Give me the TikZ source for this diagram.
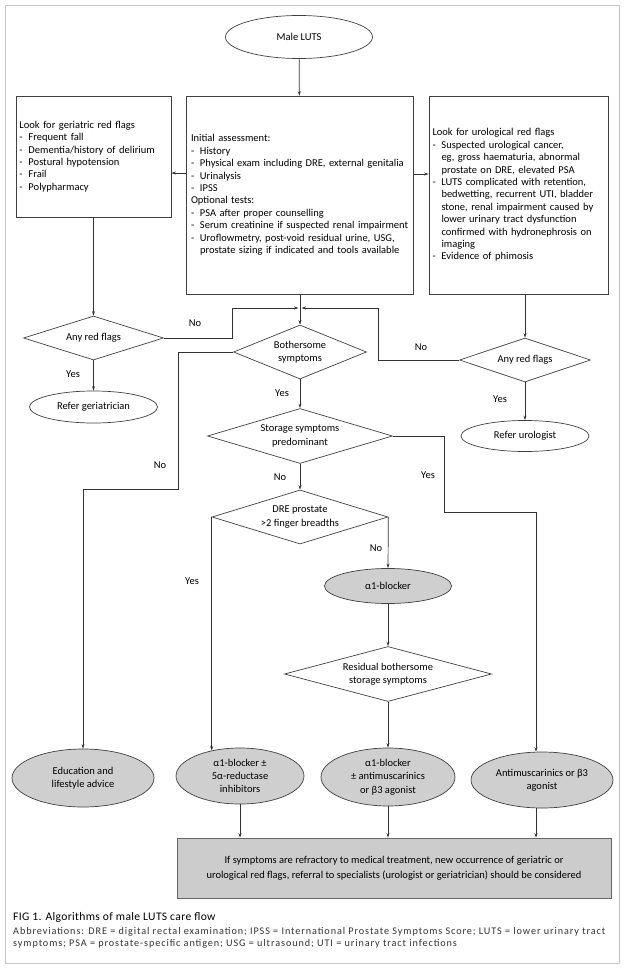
\documentclass[tikz,border=0pt]{standalone}
\usepackage{fontspec}
\setmainfont{Carlito}
\newfontfamily\abbrfamily[LetterSpace=9]{Carlito}
\newfontfamily\capfamily[LetterSpace=3]{Carlito}
\usetikzlibrary{shapes.geometric,arrows.meta}

\newcommand{\bodyfont}{\fontsize{10.5}{12.4}\selectfont}
\newcommand{\choicefont}{\fontsize{10.5}{13.3}\selectfont}
\newcommand{\dashitem}[1]{\makebox[9pt][l]{-}#1}
\newcommand{\contline}[1]{\hspace*{9pt}#1}

\tikzset{
  flowline/.style={draw=black!80, line width=0.7pt},
  infobox/.style={draw=black!75, line width=0.7pt, rectangle, inner xsep=4pt, inner ysep=0pt, align=left, font=\bodyfont},
  choice/.style={draw=black!75, line width=0.7pt, diamond, inner sep=0pt, align=center, font=\choicefont},
  startend/.style={draw=black!75, line width=0.7pt, ellipse, inner sep=0pt, align=center, font=\bodyfont},
  therapy/.style={startend, fill=gray!38, font=\choicefont},
  answer/.style={font=\bodyfont, inner sep=0pt},
}

\begin{document}
\begin{tikzpicture}[x=1pt, y=-1pt, >={Stealth[length=4.5pt,width=3pt]}]
\useasboundingbox (0,0) rectangle (626,974);
\draw[gray!45, line width=0.8pt] (5,5) rectangle (619,963);

% start and first assessment
\node[startend, minimum width=147pt, minimum height=43pt] (luts) at (299,37) {Male LUTS};
\node[infobox, minimum width=155pt, minimum height=121pt, text width=148pt, inner xsep=3.5pt] (geri) at (93.5,156.5) {Look for geriatric red flags\\
\dashitem{Frequent fall}\\
\dashitem{Dementia/history of delirium}\\
\dashitem{Postural hypotension}\\
\dashitem{Frail}\\
\dashitem{Polypharmacy}};
\node[infobox, minimum width=227pt, minimum height=198pt, text width=218pt, inner xsep=4.5pt] (assess) at (300,195) {Initial assessment:\\
\dashitem{History}\\
\dashitem{Physical exam including DRE, external genitalia}\\
\dashitem{Urinalysis}\\
\dashitem{IPSS}\\
Optional tests:\\
\dashitem{PSA after proper counselling}\\
\dashitem{Serum creatinine if suspected renal impairment}\\
\dashitem{Uroflowmetry, post-void residual urine, USG,}\\
\contline{prostate sizing if indicated and tools available}};
\node[infobox, minimum width=179pt, minimum height=198pt, text width=172pt, inner xsep=3.5pt] (uro) at (518.5,195) {Look for urological red flags\\
\dashitem{Suspected urological cancer,}\\
\contline{eg, gross haematuria, abnormal}\\
\contline{prostate on DRE, elevated PSA}\\
\dashitem{LUTS complicated with retention,}\\
\contline{bedwetting, recurrent UTI, bladder}\\
\contline{stone, renal impairment caused by}\\
\contline{lower urinary tract dysfunction}\\
\contline{confirmed with hydronephrosis on}\\
\contline{imaging}\\
\dashitem{Evidence of phimosis}};

% red flag checks
\node[choice, minimum width=140pt, minimum height=44pt, shape aspect=3.2] (geriq) at (93.5,338) {Any red flags};
\node[startend, minimum width=128pt, minimum height=32pt] (refgeri) at (93.5,407) {Refer geriatrician};
\node[choice, minimum width=131pt, minimum height=44pt, shape aspect=3] (uroq) at (525,360) {Any red flags};
\node[startend, minimum width=128pt, minimum height=31pt] (refuro) at (525,436) {Refer urologist};
\coordinate (join) at (300,308);

% main decisions
\node[choice, minimum width=133pt, minimum height=54pt, shape aspect=2.5] (bother) at (300,352) {Bothersome\\symptoms};
\node[choice, minimum width=185pt, minimum height=55pt, shape aspect=3.4] (storage) at (300,436) {Storage symptoms\\predominant};
\node[choice, minimum width=176pt, minimum height=54pt, shape aspect=3.26] (dre) at (300,517) {DRE prostate\\>2 finger breadths};
\node[therapy, minimum width=127pt, minimum height=35pt] (alpha) at (388,586) {α1-blocker};
\node[choice, minimum width=207pt, minimum height=55pt, shape aspect=3.76] (resid) at (388,674) {Residual bothersome\\storage symptoms};

% treatments
\node[therapy, minimum width=142pt, minimum height=58pt] (edu) at (83,778) {Education and\\lifestyle advice};
\node[therapy, minimum width=128pt, minimum height=56pt] (combo5) at (240,776) {α1-blocker ±\\5α-reductase\\inhibitors};
\node[therapy, minimum width=134pt, minimum height=58pt] (comboanti) at (388,777) {α1-blocker\\± antimuscarinics\\or β3 agonist};
\node[therapy, minimum width=142pt, minimum height=56pt] (antim) at (542,780) {Antimuscarinics or β3\\agonist};
\node[draw=black!60, line width=0.7pt, fill=gray!40, minimum width=434pt, minimum height=60pt, align=center, font=\fontsize{10.5}{15}\selectfont] (final) at (394,868) {If symptoms are refractory to medical treatment, new occurrence of geriatric or\\urological red flags, referral to specialists (urologist or geriatrician) should be considered};

% answers
\node[answer] (geriNo) at (195,323) {No};
\node[answer] (uroNo) at (421,347) {No};
\node[answer] (geriYes) at (73,374) {Yes};
\node[answer] (uroYes) at (500,399) {Yes};
\node[answer] (botherYes) at (282,393) {Yes};
\node[answer] (botherNo) at (160,465) {No};
\node[answer] (storeYes) at (428,475) {Yes};
\node[answer] (storeNo) at (280,477) {No};
\node[answer] (dreYes) at (192,581) {Yes};
\node[answer] (dreNo) at (376,548) {No};

% connectors
\draw[->, flowline] (luts) -- (assess);
\draw[->, flowline] ([yshift=22pt]assess.west) -- ([yshift=22pt]assess.west -| geri.east);
\draw[->, flowline] ([yshift=21pt]assess.east) -- ([yshift=21pt]assess.east -| uro.west);
\draw[->, flowline] (geri) -- (geriq);
\draw[->, flowline] (geriq) -- (refgeri);
\draw[->, flowline] (uro.south -| uroq.north) -- (uroq.north);
\draw[->, flowline] (uroq) -- (refuro);
\draw[->, flowline] (assess.south) -- (bother.north);
\draw[->, flowline] (geriq.east) -- ++(68,0) |- ([xshift=-1.5pt]join);
\draw[->, flowline] (uroq.west) -- ++(-81,0) |- ([xshift=1.5pt]join);
\draw[->, flowline] (bother) -- (storage);
\draw[->, flowline] (bother.west) -- ++(-55,0) -- ++(0,137) -| (edu.north);
\draw[->, flowline] (storage) -- (dre);
\draw[->, flowline] (storage.east) -- ++(51,0) -- ++(0,76) -| ([xshift=-6pt]antim.north);
\draw[->, flowline] (dre.west) -- (dre.west |- combo5.138);
\draw[->, flowline] (dre.east) -- (alpha.north);
\draw[->, flowline] (alpha) -- (resid);
\draw[->, flowline] (resid) -- (comboanti);
\draw[->, flowline] (combo5) -- (combo5 |- final.north);
\draw[->, flowline] (comboanti) -- (comboanti |- final.north);
\draw[->, flowline] ([xshift=-6pt]antim.south) -- ([xshift=-6pt]antim.south |- final.north);

% caption
\node[anchor=west, inner sep=0pt, font=\capfamily\fontsize{11.6}{12}\selectfont] (figcap) at (13,917) {FIG 1. Algorithms of male LUTS care flow};
\node[anchor=north west, align=left, inner sep=0pt, text=black!80, font=\abbrfamily\fontsize{10.2}{11.8}\selectfont] (abbr) at (13,927) {Abbreviations: DRE = digital rectal examination; IPSS = International Prostate Symptoms Score; LUTS = lower urinary tract\\symptoms; PSA = prostate-specific antigen; USG = ultrasound; UTI = urinary tract infections};
\end{tikzpicture}
\end{document}
